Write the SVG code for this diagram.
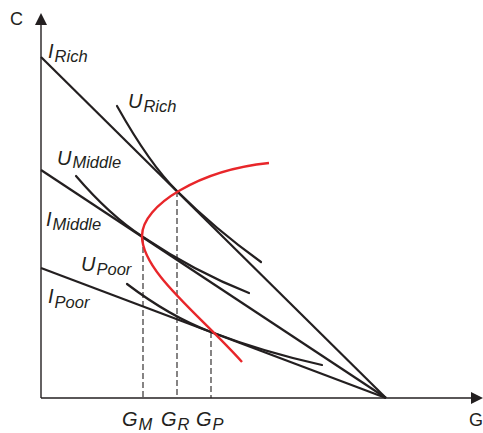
<svg xmlns="http://www.w3.org/2000/svg" width="483" height="433" viewBox="0 0 483 433">
<style>
text{font-family:"Liberation Sans",Arial,sans-serif;font-style:italic;font-size:20px;fill:#231f20}
.sub{font-size:16.5px}
.ax{stroke:#231f20;stroke-width:1.4;fill:none}
.bl{stroke:#231f20;stroke-width:2.2;fill:none}
.ic{stroke:#231f20;stroke-width:2.2;fill:none;stroke-linecap:round}
.dash{stroke:#231f20;stroke-width:1.1;stroke-dasharray:6,3;fill:none}
</style>
<rect width="483" height="433" fill="#fff"/>
<g id="axes">
<line class="ax" x1="41" y1="398" x2="41" y2="22"/>
<polygon points="41,13 35,25 47,25" fill="#231f20"/>
<line class="ax" x1="41" y1="398" x2="472" y2="398"/>
<polygon points="483,398 471,392 471,404" fill="#231f20"/>
<text x="10" y="25" style="font-style:normal;font-size:18px">C</text>
<text x="469" y="426" style="font-style:normal;font-size:18px">G</text>
</g>
<g id="connectors">
<line class="dash" x1="143" y1="238" x2="143" y2="398"/>
<line class="dash" x1="177" y1="191" x2="177" y2="398"/>
<line class="dash" x1="211" y1="332" x2="211" y2="398"/>
</g>
<g id="I_Rich">
<line class="bl" x1="41" y1="57" x2="386" y2="398"/>
<text x="48" y="58">I<tspan class="sub" dx="1" dy="4">Rich</tspan></text>
</g>
<g id="I_Middle">
<line class="bl" x1="41" y1="170" x2="386" y2="398"/>
<text x="46" y="226">I<tspan class="sub" dx="1" dy="4">Middle</tspan></text>
</g>
<g id="I_Poor">
<line class="bl" x1="41" y1="268" x2="386" y2="398"/>
<text x="48" y="303">I<tspan class="sub" dx="1" dy="5">Poor</tspan></text>
</g>
<g id="U_Rich">
<path class="ic" d="M117,106 Q150,164.7 177,191 Q215,228.9 261,262"/>
<text x="128" y="108">U<tspan class="sub" dx="1" dy="4">Rich</tspan></text>
</g>
<g id="U_Middle">
<path class="ic" d="M76,176 Q110,215.6 143,237 Q195,271.8 249,293"/>
<text x="57" y="165">U<tspan class="sub" dx="1" dy="3">Middle</tspan></text>
</g>
<g id="U_Poor">
<path class="ic" d="M127,284 Q170,316.6 211,332 Q265,352.5 322,365"/>
<text x="81" y="271">U<tspan class="sub" dx="1" dy="4">Poor</tspan></text>
</g>
<g id="red_curve">
<path d="M269,163 C200,170 142,205 142,236 C142,272 200,315 242,362" stroke="#e8262a" stroke-width="2.4" fill="none"/>
</g>
<g id="labels">
<text x="122" y="426">G<tspan class="sub" dx="1" dy="4">M</tspan></text>
<text x="161" y="426">G<tspan class="sub" dx="1" dy="4">R</tspan></text>
<text x="196" y="426">G<tspan class="sub" dx="1" dy="4">P</tspan></text>
</g>
</svg>
